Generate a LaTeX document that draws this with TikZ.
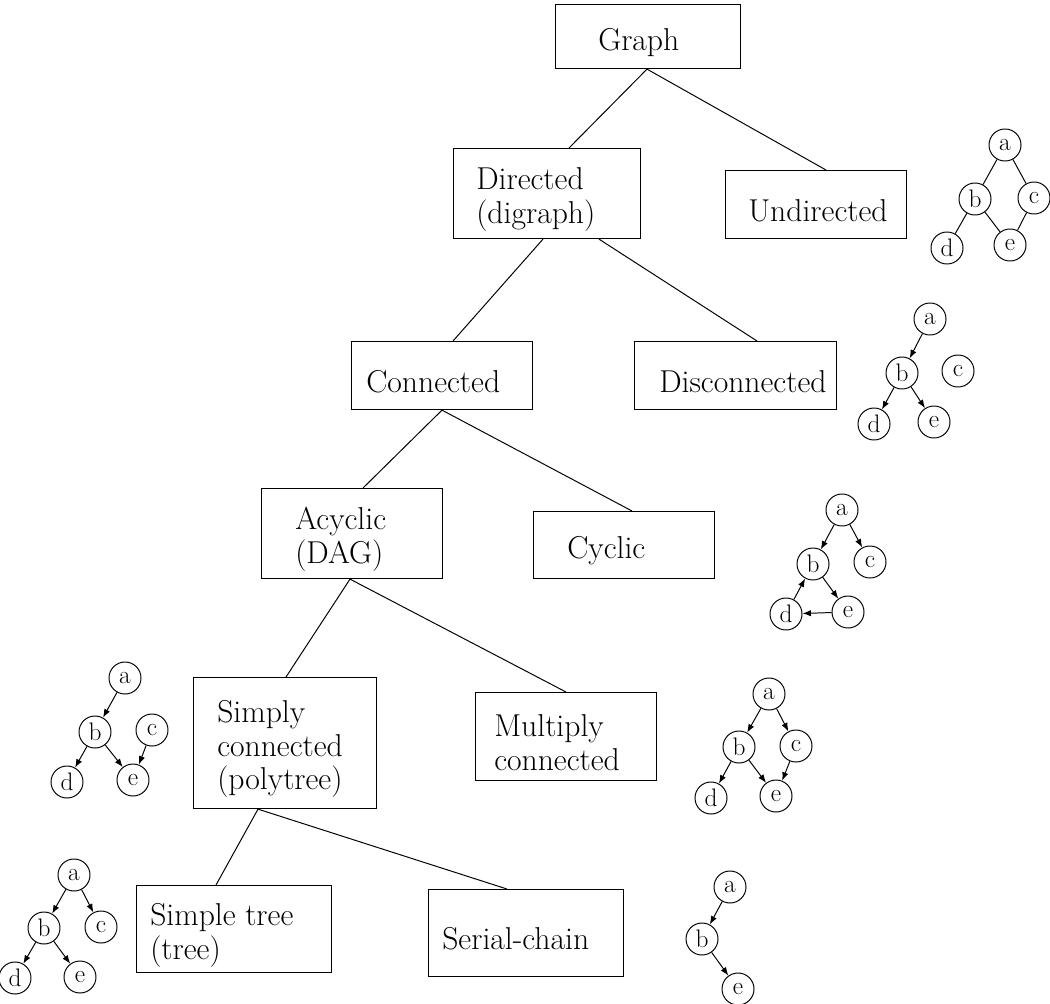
\documentclass[tikz,border=0pt]{standalone}
\usepackage{tikz}
\usetikzlibrary{positioning,calc,arrows.meta}
\newlength{\ux}
\setlength{\ux}{0.025cm}

\begin{document}
\begin{tikzpicture}[
	x=\ux, y=-\ux,
	box/.style={draw, rectangle, anchor=north west, inner sep=0pt, line width=0.8pt},
	lbl/.style={anchor=west, inner sep=0pt, align=left, font=\fontsize{22.5}{24}\selectfont},
	vtx/.style={draw, circle, minimum size=32\ux, inner sep=0pt, line width=0.7pt,
		font=\fontsize{18}{20}\selectfont},
	arc/.style={line width=0.7pt, -{Latex[length=6pt,width=4.5pt]}},
	link/.style={line width=0.7pt},
	]
	\useasboundingbox (0,0) rectangle (1050,1004);
	% category boxes
	\node [box, minimum width=185\ux, minimum height=64\ux] (graph) at (555,4) {};
	\node [box, minimum width=187\ux, minimum height=90\ux] (directed) at (453,148) {};
	\node [box, minimum width=181\ux, minimum height=68\ux] (undirected) at (725,170) {};
	\node [box, minimum width=181\ux, minimum height=68\ux] (connected) at (351,341) {};
	\node [box, minimum width=202\ux, minimum height=68\ux] (disconnected) at (634,341) {};
	\node [box, minimum width=181\ux, minimum height=90\ux] (acyclic) at (261,488) {};
	\node [box, minimum width=181\ux, minimum height=67\ux] (cyclic) at (533,511) {};
	\node [box, minimum width=183\ux, minimum height=131\ux] (simply) at (193,677) {};
	\node [box, minimum width=181\ux, minimum height=88\ux] (multiply) at (475,692) {};
	\node [box, minimum width=195\ux, minimum height=87\ux] (simpletree) at (136,885) {};
	\node [box, minimum width=195\ux, minimum height=87\ux] (serial) at (428,889) {};
	
	\node [lbl] (graphT) at ($(graph.west)+(43,6)$) {Graph};
	\node [lbl] (directedT) at ($(directed.west)+(23,6)$) {Directed\\(digraph)};
	\node [lbl] (undirectedT) at ($(undirected.west)+(23,6)$) {Undirected};
	\node [lbl] (connectedT) at ($(connected.west)+(15,6)$) {Connected};
	\node [lbl] (disconnectedT) at ($(disconnected.west)+(25,6)$) {Disconnected};
	\node [lbl] (acyclicT) at ($(acyclic.west)+(34,6)$) {Acyclic\\(DAG)};
	\node [lbl] (cyclicT) at ($(cyclic.west)+(34,6)$) {Cyclic};
	\node [lbl] (simplyT) at ($(simply.west)+(24,6)$) {Simply\\connected\\(polytree)};
	\node [lbl] (multiplyT) at ($(multiply.west)+(19,6)$) {Multiply\\connected};
	\node [lbl] (simpletreeT) at ($(simpletree.west)+(14,6)$) {Simple tree\\(tree)};
	\node [lbl] (serialT) at ($(serial.west)+(14,6)$) {Serial-chain};
	
	% hierarchy
	\draw [link] ($(graph.south west)+(92,0)$) -- ($(directed.north west)+(116,0)$);
	\draw [link] ($(graph.south west)+(92,0)$) -- ($(undirected.north west)+(101,0)$);
	\draw [link] ($(directed.south west)+(90,0)$) -- ($(connected.north west)+(102,0)$);
	\draw [link] ($(directed.south west)+(146,0)$) -- ($(disconnected.north west)+(123,0)$);
	\draw [link] ($(connected.south west)+(91,0)$) -- ($(acyclic.north west)+(102,0)$);
	\draw [link] ($(connected.south west)+(91,0)$) -- ($(cyclic.north west)+(99,0)$);
	\draw [link] ($(acyclic.south west)+(89,0)$) -- ($(simply.north west)+(93,0)$);
	\draw [link] ($(acyclic.south west)+(89,0)$) -- ($(multiply.north west)+(91,0)$);
	\draw [link] ($(simply.south west)+(65,0)$) -- ($(simpletree.north west)+(80,0)$);
	\draw [link] ($(simply.south west)+(65,0)$) -- ($(serial.north west)+(79,0)$);
	
	% undirected example
	\foreach \n/\x/\y in {a/1005/145, b/975/199, c/1034/198, d/947/248, e/1010/245}
		\node [vtx] (U\n) at (\x,\y) {\n};
	\foreach \s/\t in {a/b, a/c, b/d, b/e, c/e}
		\draw [link] (U\s) -- (U\t);
	
	% disconnected example
	\foreach \n/\x/\y in {a/930/319, b/902/373, c/958/371, d/874/424, e/934/422}
		\node [vtx] (D\n) at (\x,\y) {\n};
	\foreach \s/\t in {a/b, b/d, b/e}
		\draw [arc] (D\s) -- (D\t);
	
	% cyclic example
	\foreach \n/\x/\y in {a/842/510, b/813/564, c/870/562, d/786/614, e/848/612}
		\node [vtx] (C\n) at (\x,\y) {\n};
	\foreach \s/\t in {a/b, a/c, b/e, e/d, d/b}
		\draw [arc] (C\s) -- (C\t);
	
	% polytree example
	\foreach \n/\x/\y in {a/125/678, b/95/732, c/152/730, d/67/782, e/133/780}
		\node [vtx] (S\n) at (\x,\y) {\n};
	\foreach \s/\t in {a/b, b/d, b/e, c/e}
		\draw [arc] (S\s) -- (S\t);
	
	% multiply connected example
	\foreach \n/\x/\y in {a/769/694, b/739/747, c/796/746, d/711/798, e/776/796}
		\node [vtx] (M\n) at (\x,\y) {\n};
	\foreach \s/\t in {a/b, a/c, b/d, b/e, c/e}
		\draw [arc] (M\s) -- (M\t);
	
	% tree example
	\foreach \n/\x/\y in {a/74/875, b/44/928, c/101/927, d/15/978, e/80/977}
		\node [vtx] (T\n) at (\x,\y) {\n};
	\foreach \s/\t in {a/b, a/c, b/d, b/e}
		\draw [arc] (T\s) -- (T\t);
	
	% serial chain example
	\foreach \n/\x/\y in {a/730/887, b/702/939, e/738/989}
		\node [vtx] (P\n) at (\x,\y) {\n};
	\foreach \s/\t in {a/b, b/e}
		\draw [arc] (P\s) -- (P\t);
\end{tikzpicture}
\end{document}
